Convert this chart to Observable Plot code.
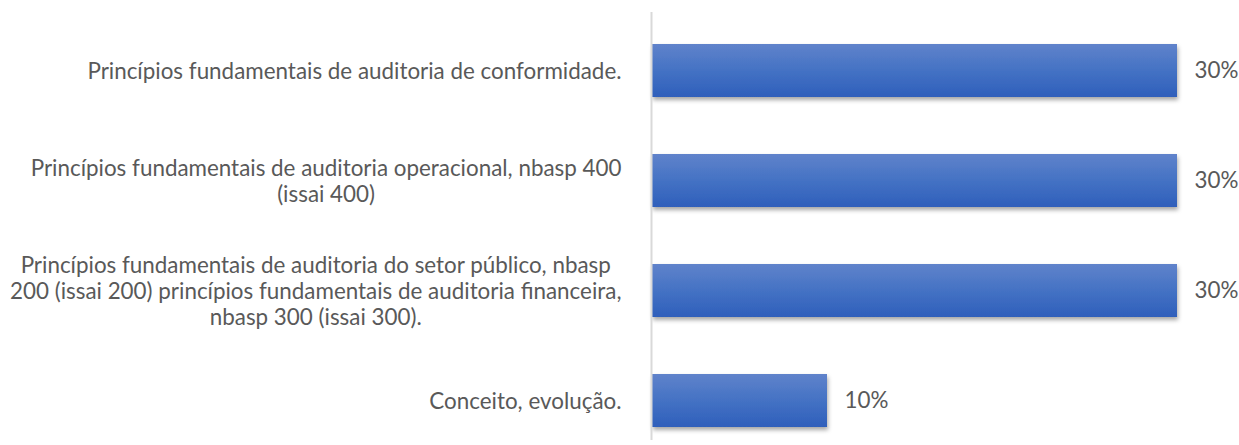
<!DOCTYPE html>
<html>
<head>
<meta charset="utf-8">
<script src="https://cdn.jsdelivr.net/npm/d3@7"></script>
<script src="https://cdn.jsdelivr.net/npm/@observablehq/plot@0.6"></script>
<style>
  html, body { margin: 0; padding: 0; background: #fff; }
</style>
</head>
<body>
<div id="chart"></div>
<script>
const categories = [
  "Princípios fundamentais de auditoria de conformidade.",
  "Princípios fundamentais de auditoria operacional, nbasp 400\n(issai 400)",
  "Princípios fundamentais de auditoria do setor público, nbasp\n200 (issai 200) princípios fundamentais de auditoria financeira,\nnbasp 300 (issai 300).",
  "Conceito, evolução."
];
const values = [30, 30, 30, 10];
const valueLabels = ["30%", "30%", "30%", "10%"];

const rows = categories.map((c, i) => ({category: c, value: values[i], label: valueLabels[i]}));

const FONT = 22.4;
const svg = Plot.plot({
  width: 1239,
  height: 445,
  marginLeft: 652,
  marginRight: 62,
  marginTop: 12,
  marginBottom: 5,
  style: {fontFamily: "Lato", fontSize: FONT + "px", color: "#595959", background: "white"},
  x: {domain: [0, 30], axis: null},
  y: {domain: categories, paddingInner: 0.52, paddingOuter: 0.197, align: 0.713, label: null, axis: null},
  marks: [
    Plot.barX(rows, {x: "value", y: "category", fill: "url(#barGrad)"}),
    Plot.ruleX([0], {stroke: "#d9d9d9", strokeWidth: 2, dx: -1}),
    Plot.text(rows, {x: "value", y: "category", text: "label", dx: 17, textAnchor: "start", fill: "#595959", fontSize: FONT}),
    Plot.axisY({tickSize: 0, tickPadding: 31, fontSize: FONT, lineHeight: 1.16, fill: "#595959", label: null})
  ]
});
document.getElementById("chart").appendChild(svg);

const ns = "http://www.w3.org/2000/svg";
const defs = document.createElementNS(ns, "defs");
defs.innerHTML = `
  <linearGradient id="barGrad" x1="0" y1="0" x2="0" y2="1">
    <stop offset="0%" stop-color="#6083cb"/>
    <stop offset="50%" stop-color="#4472c4"/>
    <stop offset="100%" stop-color="#2f5fbb"/>
  </linearGradient>
  <filter id="shadow" x="-5%" y="-20%" width="115%" height="150%">
    <feDropShadow dx="1" dy="3" stdDeviation="2" flood-color="#000" flood-opacity="0.35"/>
  </filter>`;
svg.insertBefore(defs, svg.firstChild);
const barG = svg.querySelector('g[aria-label="bar"]');
if (barG) barG.setAttribute("filter", "url(#shadow)");

// Center the lines of multi-line category labels within their block (block stays right-aligned)
svg.querySelectorAll('g[aria-label="y-axis tick label"] text').forEach(t => {
  const spans = Array.from(t.querySelectorAll("tspan"));
  if (spans.length < 2) return;
  const maxW = Math.max(...spans.map(s => s.getComputedTextLength()));
  t.setAttribute("text-anchor", "middle");
  spans.forEach(s => s.setAttribute("x", -maxW / 2));
});
</script>
</body>
</html>
